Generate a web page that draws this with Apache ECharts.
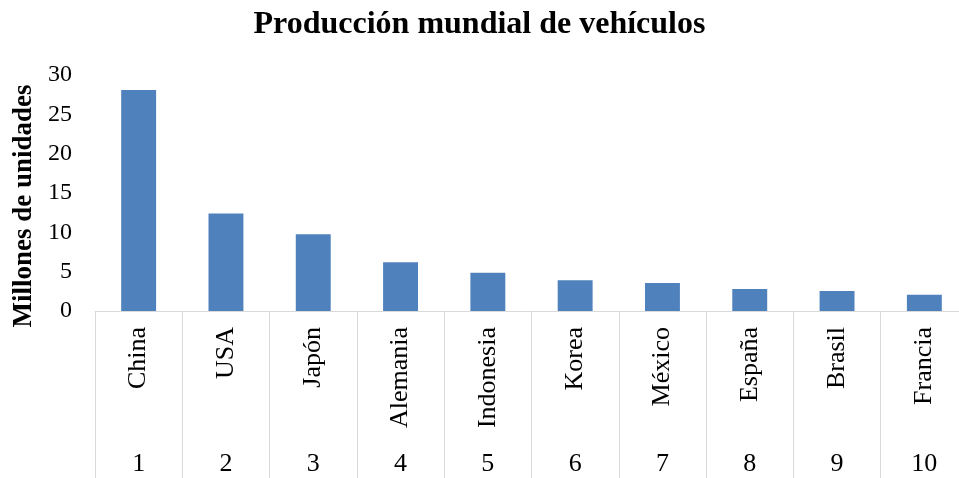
<!DOCTYPE html>
<html>
<head>
<meta charset="utf-8">
<title>Producción mundial de vehículos</title>
<script src="https://cdn.jsdelivr.net/npm/echarts@6/dist/echarts.min.js"></script>
<style>
  html, body { margin: 0; padding: 0; background: #fff; }
  #chart { width: 959px; height: 478px; }
</style>
</head>
<body>
<div id="chart"></div>
<script>
// datos (millones de unidades)
var countries = ['China', 'USA', 'Japón', 'Alemania', 'Indonesia', 'Korea', 'México', 'España', 'Brasil', 'Francia']
var ranks = ['1', '2', '3', '4', '5', '6', '7', '8', '9', '10']
var production = [28.1, 12.4, 9.75, 6.19, 4.87, 3.9, 3.56, 2.79, 2.54, 2.07]

var serif = '"Liberation Serif", "Times New Roman", serif'
var lineColor = '#d9d9d9'

var chart = echarts.init(document.getElementById('chart'))
chart.setOption({
  backgroundColor: '#fff',
  animation: false,
  title: {
    text: 'Producción mundial de vehículos',
    left: 'center',
    top: 4,
    textStyle: {
      fontFamily: serif,
      fontWeight: 'bold',
      fontSize: 32,
      color: '#000'
    }
  },
  // el ultimo separador queda fuera del lienzo, como en el original
  grid: {
    left: 95,
    width: 873,
    top: 75,
    bottom: 167,
    containLabel: false,
    outerBoundsMode: 'none'
  },
  xAxis: [{
    type: 'category',
    data: countries,
    position: 'bottom',
    axisLine: { show: true, lineStyle: { color: lineColor, width: 1 } },
    axisTick: { show: true, length: 167, lineStyle: { color: lineColor, width: 1 } },
    axisLabel: {
      rotate: 90,
      margin: 16,
      interval: 0,
      fontFamily: serif,
      fontSize: 26,
      color: '#000'
    }
  }, {
    type: 'category',
    data: ranks,
    position: 'bottom',
    axisLine: { show: false },
    axisTick: { show: false },
    axisLabel: {
      margin: 140,
      interval: 0,
      fontFamily: serif,
      fontSize: 26,
      color: '#000'
    }
  }],
  yAxis: {
    type: 'value',
    min: 0,
    max: 30,
    interval: 5,
    name: 'Millones de unidades',
    nameLocation: 'middle',
    nameRotate: 90,
    nameGap: 52,
    nameTextStyle: {
      fontFamily: serif,
      fontWeight: 'bold',
      fontSize: 27,
      color: '#000',
      padding: [0, 26, 0, 0]
    },
    axisLine: { show: false },
    axisTick: { show: false },
    splitLine: { show: false },
    axisLabel: {
      margin: 23,
      fontFamily: serif,
      fontSize: 24,
      color: '#000'
    }
  },
  series: [{
    type: 'bar',
    xAxisIndex: 0,
    data: production,
    barWidth: '40%',
    itemStyle: { color: '#4f81bd' }
  }]
})
</script>
</body>
</html>
